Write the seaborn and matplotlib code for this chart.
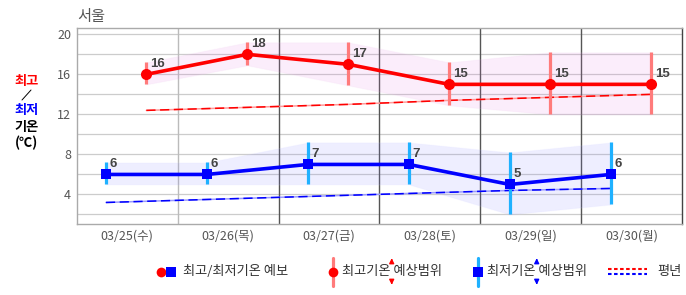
import matplotlib
matplotlib.use("Agg")
import matplotlib.pyplot as plt
import numpy as np
import pandas as pd
import seaborn as sns

# ---------------- data ----------------
dates = ["03/25(수)", "03/26(목)", "03/27(금)", "03/28(토)", "03/29(일)", "03/30(월)"]
tmax = [16, 18, 17, 15, 15, 15]
tmin = [6, 6, 7, 7, 5, 6]
tmax_lo = [15.0, 16.9, 14.9, 12.9, 12.0, 12.0]
tmax_hi = [17.2, 19.2, 19.2, 17.2, 18.2, 18.2]
tmin_lo = [5.0, 5.0, 5.0, 5.0, 2.0, 3.0]
tmin_hi = [7.2, 7.2, 9.2, 9.2, 8.2, 9.2]
norm_max = [12.4, 12.7, 13.0, 13.4, 13.7, 14.0]
norm_min = [3.2, 3.5, 3.8, 4.1, 4.4, 4.6]
yticks_major = [4, 8, 12, 16, 20]

sns.set_theme(style="white")
plt.rcParams['font.family'] = ['Noto Sans CJK KR', 'DejaVu Sans']

day = np.arange(len(dates))
xmax = day + 0.69   # afternoon maximum
xmin = day + 0.29   # morning minimum
df = pd.DataFrame({"xmax": xmax, "xmin": xmin, "tmax": tmax, "tmin": tmin,
                   "tmax_lo": tmax_lo, "tmax_hi": tmax_hi,
                   "tmin_lo": tmin_lo, "tmin_hi": tmin_hi,
                   "norm_max": norm_max, "norm_min": norm_min})

fig = plt.figure(figsize=(6.86, 2.95), dpi=100)

# overlay for decorations (pixel coordinates)
oax = fig.add_axes([0, 0, 1, 1])
oax.set_xlim(0, 686)
oax.set_ylim(295, 0)
oax.axis('off')

ax = fig.add_axes([76.7 / 686, (295 - 223.5) / 295, (682.3 - 76.7) / 686, (223.5 - 28.3) / 295])
ax.set_xlim(0, len(dates))
ax.set_ylim(1.1, 20.6)

# grid
for y in range(2, 21, 2):
    ax.axhline(y, color='#cccccc', lw=0.9, zorder=0)
for i in range(1, len(dates)):
    ax.axvline(i, color='#bbbbbb' if i == 1 else '#555555', lw=1.0, zorder=0)

# bands
ax.fill_between(df.xmax, df.tmax_lo, df.tmax_hi, facecolor='#e070e0', alpha=0.12,
                edgecolor='#f0c8f0', lw=0.8, zorder=1)
ax.fill_between(df.xmin, df.tmin_lo, df.tmin_hi, facecolor='#8080ff', alpha=0.13,
                edgecolor='#d8d8ff', lw=0.8, zorder=1)

# normal lines
ax.plot(df.xmax, df.norm_max, color='#ff9a9a', lw=1.1, zorder=2)
ax.plot(df.xmax, df.norm_max, color='#ff0000', lw=1.1, dashes=(6, 3), zorder=2)
ax.plot(df.xmin, df.norm_min, color='#9a9aff', lw=1.1, zorder=2)
ax.plot(df.xmin, df.norm_min, color='#0000ff', lw=1.1, dashes=(6, 3), zorder=2)

# range bars
ax.vlines(df.xmax, df.tmax_lo, df.tmax_hi, color='#ff7b7b', lw=2.3, zorder=3)
ax.vlines(df.xmin, df.tmin_lo, df.tmin_hi, color='#1fb1ff', lw=2.3, zorder=3)

# forecast lines
sns.lineplot(data=df, x="xmax", y="tmax", ax=ax, color='#ff0000', lw=2.6, marker='o',
             markersize=8, markeredgewidth=0, sort=False, estimator=None, zorder=4)
sns.lineplot(data=df, x="xmin", y="tmin", ax=ax, color='#0000ff', lw=2.6, marker='s',
             markersize=7.5, markeredgewidth=0, sort=False, estimator=None, zorder=4)

for x, v in zip(df.xmax, df.tmax):
    ax.annotate(str(v), (x, v), xytext=(3.0, 3.4), textcoords='offset points',
                ha='left', va='bottom', fontsize=9.5, fontweight='bold', color='#444444',
                family=['Liberation Sans', 'DejaVu Sans'], zorder=5)
for x, v in zip(df.xmin, df.tmin):
    ax.annotate(str(v), (x, v), xytext=(2.8, 3.4), textcoords='offset points',
                ha='left', va='bottom', fontsize=9.5, fontweight='bold', color='#444444',
                family=['Liberation Sans', 'DejaVu Sans'], zorder=5)

# axes styling
ax.set_xticks(day + 0.5)
ax.set_xticklabels(dates, fontsize=9, color='#555555')
ax.set_yticks(list(range(2, 21, 2)))
ax.set_yticklabels([str(t) if t in yticks_major else '' for t in range(2, 21, 2)],
                   fontsize=9, color='#555555')
ax.tick_params(axis='both', length=0)
ax.tick_params(axis='y', pad=4)
ax.tick_params(axis='x', pad=4)
ax.set_xlabel('')
ax.set_ylabel('')
for s in ['left', 'bottom', 'top']:
    ax.spines[s].set_color('#aaaaaa')
    ax.spines[s].set_linewidth(1.0)
ax.spines['right'].set_color('#444444')
ax.spines['right'].set_linewidth(1.0)
ax.grid(False)

# title
oax.text(77, 16, "서울", fontsize=11, color='#555555', ha='left', va='center')

# left axis label
oax.text(27, 81, "최고", fontsize=9.5, fontweight='bold', color='#ff0000', ha='center', va='center')
oax.plot([22, 31], [100, 90], color='#000000', lw=0.7)
oax.text(27, 110, "최저", fontsize=9.5, fontweight='bold', color='#0000ff', ha='center', va='center')
oax.text(27, 127, "기온", fontsize=9.5, fontweight='bold', color='#000000', ha='center', va='center')
oax.text(27, 143, "(℃)", fontsize=9.5, fontweight='bold', color='#000000', ha='center', va='center')

# legend
ly = 271.5
tc = '#333333'
oax.plot([161], [ly], marker='o', color='#ff0000', markersize=7, markeredgewidth=0)
oax.plot([171], [ly], marker='s', color='#0000ff', markersize=6.5, markeredgewidth=0)
oax.text(183, ly, "최고/최저기온 예보", fontsize=9.5, color=tc, ha='left', va='center')

oax.plot([333, 333], [258, 286], color='#ff7b7b', lw=2.3)
oax.plot([333], [ly], marker='o', color='#ff0000', markersize=7, markeredgewidth=0)
oax.text(342, ly, "최고기온 예상범위", fontsize=9.5, color=tc, ha='left', va='center')
oax.annotate('', xy=(391.7, 255.5), xytext=(391.7, 264),
             arrowprops=dict(arrowstyle='-|>', color='#ff0000', lw=1.0, mutation_scale=7))
oax.annotate('', xy=(391.7, 287.5), xytext=(391.7, 279),
             arrowprops=dict(arrowstyle='-|>', color='#ff0000', lw=1.0, mutation_scale=7))

oax.plot([478, 478], [258, 286], color='#1fb1ff', lw=2.3)
oax.plot([478], [ly], marker='s', color='#0000ff', markersize=6.5, markeredgewidth=0)
oax.text(487, ly, "최저기온 예상범위", fontsize=9.5, color=tc, ha='left', va='center')
oax.annotate('', xy=(536.7, 255.5), xytext=(536.7, 264),
             arrowprops=dict(arrowstyle='-|>', color='#0000ff', lw=1.0, mutation_scale=7))
oax.annotate('', xy=(536.7, 287.5), xytext=(536.7, 279),
             arrowprops=dict(arrowstyle='-|>', color='#0000ff', lw=1.0, mutation_scale=7))

oax.plot([608, 647], [269, 269], color='#ff0000', lw=1.5, dashes=(1.7, 1.2))
oax.plot([608, 647], [274.3, 274.3], color='#0000ff', lw=1.5, dashes=(1.7, 1.2))
oax.text(657, ly, "평년", fontsize=9.5, color=tc, ha='left', va='center')

fig.savefig("out.png", dpi=100)
